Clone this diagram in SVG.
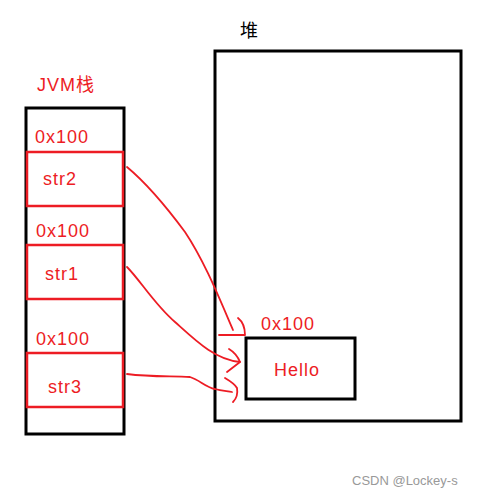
<svg xmlns="http://www.w3.org/2000/svg" width="488" height="497" viewBox="0 0 488 497">
<style>
.blk{fill:none;stroke:#000;stroke-width:3}
.red{fill:none;stroke:#ed1c24;stroke-width:2.5}
.ln{fill:none;stroke:#ed1c24;stroke-width:1.8;stroke-linecap:round;stroke-linejoin:round}
.t{font-family:"Microsoft YaHei","Liberation Sans","Noto Sans CJK SC",sans-serif;fill:#ed1c24;font-size:18px;letter-spacing:1px}
</style>
<rect width="488" height="497" fill="#fff"/>
<g id="stack-label"><text class="t" x="37" y="91">JVM栈</text></g>
<g id="stack"><rect class="blk" x="26" y="108" width="98" height="326"/></g>
<g id="str2">
<text class="t" x="35" y="143">0x100</text>
<rect class="red" x="27" y="152" width="96" height="54"/>
<text class="t" x="43" y="185">str2</text>
</g>
<g id="str1">
<text class="t" x="36" y="237">0x100</text>
<rect class="red" x="27" y="245" width="96" height="54"/>
<text class="t" x="45" y="280">str1</text>
</g>
<g id="str3">
<text class="t" x="36" y="345">0x100</text>
<rect class="red" x="27" y="353" width="96" height="54"/>
<text class="t" x="48" y="393">str3</text>
</g>
<g id="heap-label"><text x="240" y="37" font-family="'Noto Sans CJK SC',sans-serif" font-size="18" fill="#000">堆</text></g>
<g id="heap"><rect class="blk" x="215" y="51" width="246" height="370"/></g>
<g id="hello">
<text class="t" x="261" y="330">0x100</text>
<rect class="blk" x="246" y="338" width="109" height="61"/>
<text class="t" x="274" y="376">Hello</text>
</g>
<g id="connectors">
<path class="ln" d="M127,167 C145,182 165,205 185,232 C205,262 220,300 233,330"/>
<path class="ln" d="M219,335 L245,335 M238,318 C243,322 245,328 245,335"/>
<path class="ln" d="M127,267 C140,280 155,305 175,322 C195,340 215,360 240,362"/>
<path class="ln" d="M229,349 C234,352 238,357 240,362 L227,372"/>
<path class="ln" d="M127,374 C150,377 170,376 190,377 C200,380 205,387 215,389 C222,391 228,391 232,392"/>
<path class="ln" d="M225,378 C230,381 235,384 237,388 C238,394 236,399 233,402"/>
</g>
<g id="watermark"><text x="352" y="485" font-family="'Liberation Sans',sans-serif" font-size="13" fill="#999">CSDN @Lockey-s</text></g>
</svg>
